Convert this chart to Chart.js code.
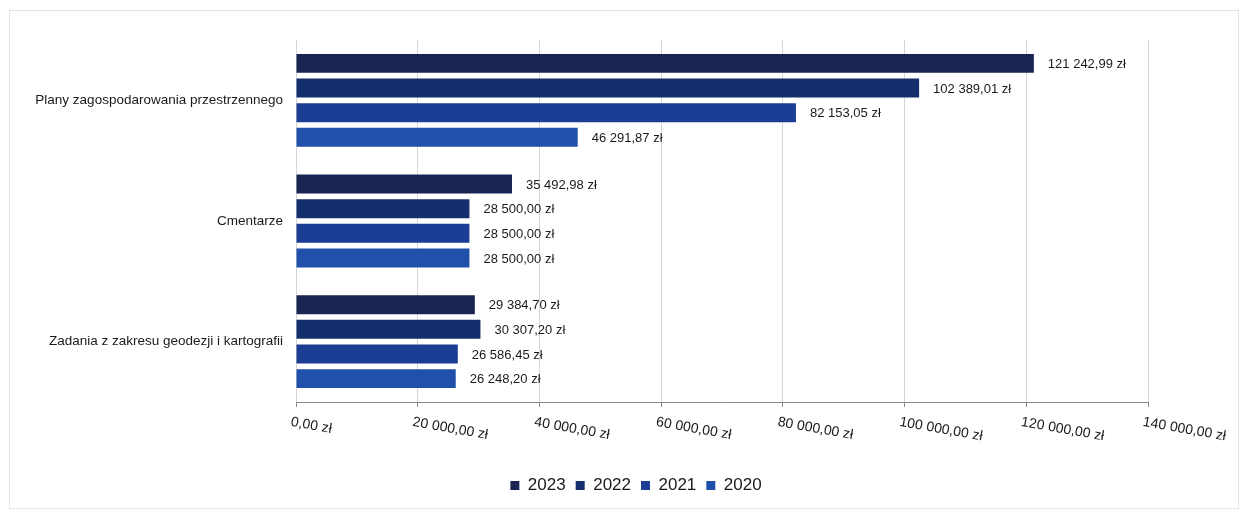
<!DOCTYPE html>
<html>
<head>
<meta charset="utf-8">
<script src="https://cdn.jsdelivr.net/npm/chart.js@4"></script>
<style>
  body { margin: 0; background: #fff; }
  #wrap { position: relative; width: 1247px; height: 512px; }
  #frame { position: absolute; left: 9px; top: 10px; width: 1228px; height: 497px; border: 1px solid #e4e4e4; pointer-events: none; }
</style>
</head>
<body>
<div id="wrap">
  <canvas id="chart" width="1247" height="512"></canvas>
  <div id="frame"></div>
</div>
<script>
// dane z wykresu
let categories = ['Plany zagospodarowania przestrzennego', 'Cmentarze', 'Zadania z zakresu geodezji i kartografii'];
let years = ['2023', '2022', '2021', '2020'];
let values2023 = [121242.99, 35492.98, 29384.70];
let values2022 = [102389.01, 28500.00, 30307.20];
let values2021 = [82153.05, 28500.00, 26586.45];
let values2020 = [46291.87, 28500.00, 26248.20];
let colors = ['#1a2452', '#152e6c', '#1b3d94', '#2050a9'];

const FONT = '"Liberation Sans", Arial, sans-serif';

function zl(v) {
    let parts = v.toFixed(2).split('.');
    parts[0] = parts[0].replace(/\B(?=(\d{3})+(?!\d))/g, ' ');
    return parts[0] + ',' + parts[1] + ' zł';
}

// etykiety wartosci na koncach slupkow
const valueLabels = {
    id: 'valueLabels',
    afterDatasetsDraw(chart) {
        const ctx = chart.ctx;
        ctx.save();
        ctx.font = '13px ' + FONT;
        ctx.fillStyle = '#1a1a1a';
        ctx.textAlign = 'left';
        ctx.textBaseline = 'middle';
        chart.data.datasets.forEach((ds, i) => {
            chart.getDatasetMeta(i).data.forEach((bar, j) => {
                ctx.fillText(zl(ds.data[j]), bar.x + 14, bar.y + 1);
            });
        });
        ctx.restore();
    }
};

// opisy osi x obrocone w prawo
const slantedTicks = {
    id: 'slantedTicks',
    afterDraw(chart) {
        const scale = chart.scales.x;
        const ctx = chart.ctx;
        ctx.save();
        ctx.font = '14px ' + FONT;
        ctx.fillStyle = '#1a1a1a';
        ctx.textAlign = 'left';
        ctx.textBaseline = 'middle';
        scale.ticks.forEach((t, i) => {
            const x = scale.getPixelForTick(i);
            ctx.save();
            ctx.translate(x - 5, scale.top + 20);
            ctx.rotate(10 * Math.PI / 180);
            ctx.fillText(zl(t.value), 0, 0);
            ctx.restore();
        });
        ctx.restore();
    }
};

// legenda przesunieta w prawo jak w oryginale
const legendShift = {
    id: 'legendShift',
    beforeDraw(chart) {
        chart.legend.left = 124;
    }
};

let datasets = [values2023, values2022, values2021, values2020].map((d, i) => ({
    label: years[i],
    data: d,
    backgroundColor: colors[i],
    categoryPercentage: 0.817,
    barPercentage: 0.77
}));

var ctx = document.getElementById('chart').getContext('2d');
var chart = new Chart(ctx, {
    type: 'bar',
    data: { labels: categories, datasets: datasets },
    options: {
        indexAxis: 'y',
        responsive: false,
        animation: false,
        layout: { padding: { top: 40, right: 99, bottom: 8, left: 0 } },
        plugins: {
            tooltip: { enabled: false },
            legend: {
                position: 'bottom',
                labels: {
                    font: { family: FONT, size: 17 },
                    color: '#1a1a1a',
                    boxWidth: 9,
                    boxHeight: 9,
                    padding: 10
                }
            }
        },
        scales: {
            x: {
                min: 0,
                max: 140000,
                ticks: { stepSize: 20000, color: 'transparent', maxRotation: 0, font: { size: 14 } },
                grid: { color: '#d6d6d6', tickColor: '#8a8a8a', tickLength: 5 },
                border: { color: '#8a8a8a' },
                afterFit(s) { s.height = 65; }
            },
            y: {
                ticks: { font: { family: FONT, size: 13.5 }, color: '#1a1a1a', padding: 13 },
                grid: { display: false, drawTicks: false },
                border: { display: false },
                afterFit(s) { s.width = 296; }
            }
        }
    },
    plugins: [valueLabels, slantedTicks, legendShift]
});
</script>
</body>
</html>
